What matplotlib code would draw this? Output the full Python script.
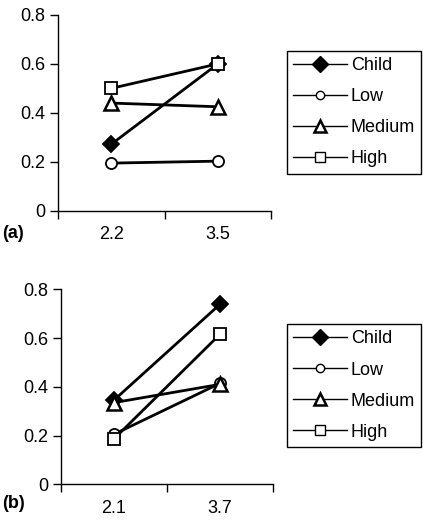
import matplotlib.pyplot as plt
from matplotlib.lines import Line2D

plt.rcParams['font.family'] = ['Liberation Sans', 'DejaVu Sans']

series = ['Child', 'Low', 'Medium', 'High']
markers = ['D', 'o', '^', 's']

# panel (a)
cats_a = ['2.2', '3.5']
child_a = [0.272, 0.60]
low_a = [0.195, 0.203]
medium_a = [0.44, 0.425]
high_a = [0.50, 0.60]

# panel (b)
cats_b = ['2.1', '3.7']
child_b = [0.345, 0.738]
low_b = [0.205, 0.414]
medium_b = [0.335, 0.41]
high_b = [0.186, 0.615]

fig = plt.figure(figsize=(4.23, 5.22), dpi=100)
ax_a = fig.add_axes([0.137, 0.596, 0.504, 0.3755])
ax_b = fig.add_axes([0.144, 0.0722, 0.501, 0.3736])

msizes = {'D': 8.5, 'o': 8, '^': 10, 's': 8.5}
fs = 13


def draw(ax, cats, data):
    x = list(range(len(cats)))
    for name, m, vals in zip(series, markers, data):
        face = 'black' if m == 'D' else 'white'
        ax.plot(x, vals, color='black', lw=2, marker=m, ms=msizes[m],
                mfc=face, mec='black', mew=1.8 if m == '^' else 1.3,
                clip_on=False)
    ax.set_xlim(-0.5, len(cats) - 0.5)
    ax.set_ylim(0, 0.8)
    ax.set_yticks([0, 0.2, 0.4, 0.6, 0.8])
    ax.set_yticklabels(['0', '0.2', '0.4', '0.6', '0.8'])
    ax.set_xticks([-0.5, 0.5, 1.5])
    ax.set_xticklabels([])
    ax.set_xticks(x, minor=True)
    ax.set_xticklabels(cats, minor=True)
    ax.tick_params(axis='x', which='minor', length=0, pad=11, labelsize=fs)
    ax.tick_params(axis='x', which='major', length=6, width=1, direction='out')
    ax.tick_params(axis='y', length=6, width=1, direction='out', pad=3,
                   labelsize=fs)
    for s in ['top', 'right']:
        ax.spines[s].set_visible(False)
    for s in ['left', 'bottom']:
        ax.spines[s].set_linewidth(1)


draw(ax_a, cats_a, [child_a, low_a, medium_a, high_a])
draw(ax_b, cats_b, [child_b, low_b, medium_b, high_b])

fig.text(0.004, 1 - 234 / 522, '(a)', fontsize=fs, fontweight='bold',
         va='center', ha='left')
fig.text(0.004, 1 - 504 / 522, '(b)', fontsize=fs, fontweight='bold',
         va='center', ha='left')

leg_ms = {'D': 8, 'o': 6, '^': 8.5, 's': 6.5}
handles = []
for m in markers:
    face = 'black' if m == 'D' else 'white'
    handles.append(Line2D([], [], color='black', lw=1, marker=m, ms=leg_ms[m],
                          mfc=face, mec='black',
                          mew=1.8 if m == '^' else 1.0))

for ytop in [0.903, 0.379]:
    fig.legend(handles, series, loc='upper left', bbox_to_anchor=(0.678, ytop),
               frameon=True, fancybox=False, edgecolor='black', fontsize=fs,
               handlelength=3.0, handletextpad=0.2, labelspacing=0.78,
               borderpad=0.35, borderaxespad=0, framealpha=1)

fig.savefig('out.png', dpi=100)
